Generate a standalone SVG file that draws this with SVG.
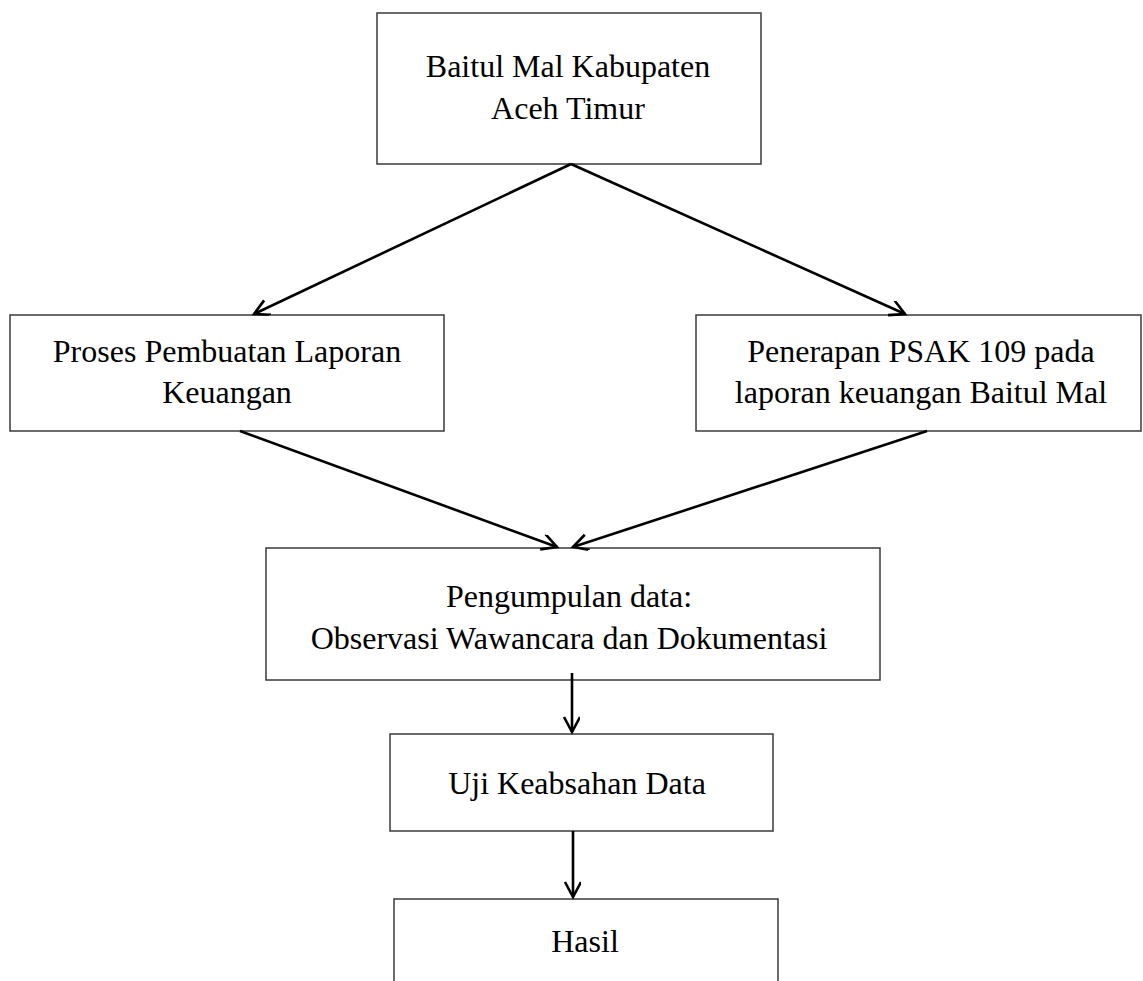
<svg xmlns="http://www.w3.org/2000/svg" width="1143" height="981" viewBox="0 0 1143 981">
<style>
.box{fill:#fff;stroke:#3a3a3a;stroke-width:1.5}
.t{font-family:"Liberation Serif","Times New Roman",serif;font-size:32px;fill:#000;text-anchor:middle}
.c{stroke:#000;stroke-width:2.6;fill:none}
</style>
<defs>
<marker id="ah" markerUnits="userSpaceOnUse" markerWidth="20" markerHeight="20" refX="16" refY="8" orient="auto">
<path d="M1,0 L16,8 L1,16" fill="none" stroke="#000" stroke-width="2.6"/>
</marker>
</defs>
<rect width="1143" height="981" fill="#fff"/>
<g id="n1">
<rect class="box" x="377" y="13" width="384" height="151"/>
<text class="t" x="568" y="77">Baitul Mal Kabupaten</text>
<text class="t" x="568" y="119">Aceh Timur</text>
</g>
<g id="n2">
<rect class="box" x="10" y="315" width="434" height="116"/>
<text class="t" x="227" y="362">Proses Pembuatan Laporan</text>
<text class="t" x="227" y="403">Keuangan</text>
</g>
<g id="n3">
<rect class="box" x="696" y="315" width="445" height="116"/>
<text class="t" x="921" y="362">Penerapan PSAK 109 pada</text>
<text class="t" x="921" y="403">laporan keuangan Baitul Mal</text>
</g>
<g id="n4">
<rect class="box" x="266" y="548" width="614" height="132"/>
<text class="t" x="569" y="607">Pengumpulan data:</text>
<text class="t" x="569" y="649">Observasi Wawancara dan Dokumentasi</text>
</g>
<g id="n5">
<rect class="box" x="390" y="734" width="383" height="97"/>
<text class="t" x="577" y="794">Uji Keabsahan Data</text>
</g>
<g id="n6">
<path class="box" d="M394,990 L394,899 L778,899 L778,990"/>
<text class="t" x="585" y="952">Hasil</text>
</g>
<g id="connectors">
<line class="c" x1="571" y1="164" x2="254" y2="314" marker-end="url(#ah)"/>
<line class="c" x1="571" y1="164" x2="905" y2="314" marker-end="url(#ah)"/>
<line class="c" x1="240" y1="431" x2="557" y2="547" marker-end="url(#ah)"/>
<line class="c" x1="927" y1="431" x2="573" y2="547" marker-end="url(#ah)"/>
<line class="c" x1="572" y1="673" x2="572" y2="732" marker-end="url(#ah)"/>
<line class="c" x1="573" y1="831" x2="573" y2="897" marker-end="url(#ah)"/>
</g>
</svg>
